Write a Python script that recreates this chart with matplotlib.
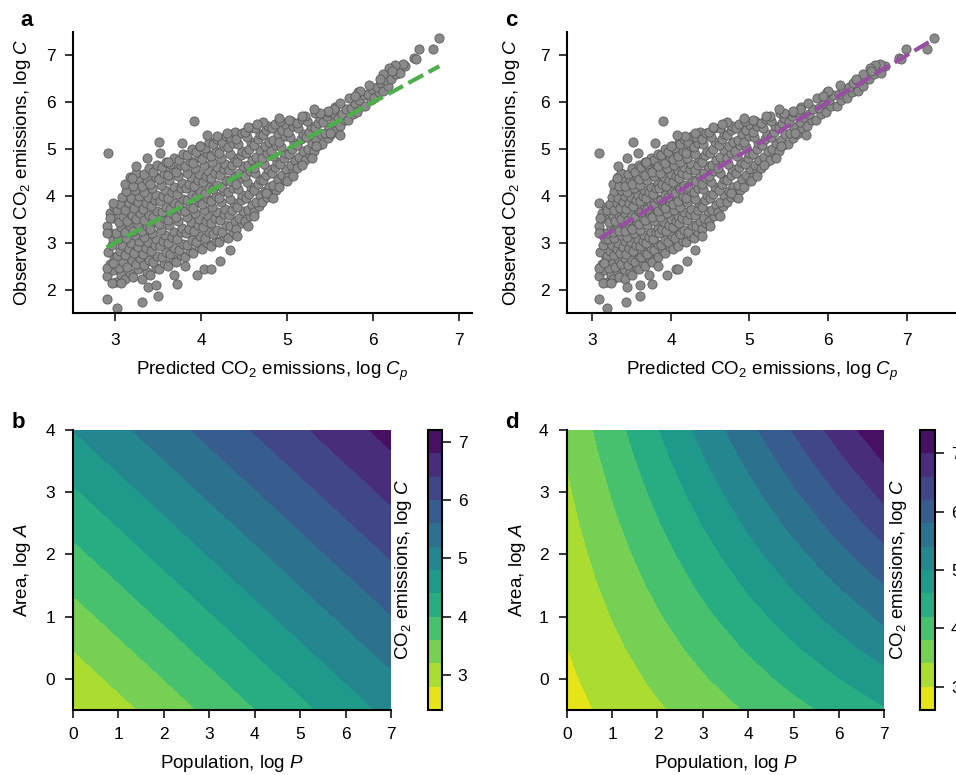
import matplotlib

matplotlib.use("Agg")
import matplotlib.pyplot as plt  # noqa: E402
import numpy as np  # noqa: E402

plt.rcParams["font.family"] = ["Liberation Sans", "DejaVu Sans"]
plt.rcParams["mathtext.fontset"] = "custom"
plt.rcParams["mathtext.rm"] = "Liberation Sans"
plt.rcParams["mathtext.it"] = "Liberation Sans:italic"
plt.rcParams["font.size"] = 12.5

# observed log C per city, with predicted log Cp from the two models (a: linear, c: with cross term)
obs = [
    2.28, 2.42, 2.55, 2.70, 2.81, 2.96, 3.08, 3.24, 3.36, 3.52, 3.63, 3.77,
    2.16, 2.31, 2.47, 2.58, 2.71, 2.83, 2.95, 3.09, 3.20, 3.33, 3.44, 3.58, 3.70, 3.83, 3.97,
    2.22, 2.36, 2.49, 2.63, 2.73, 2.87, 2.99, 3.11, 3.24, 3.35, 3.47, 3.60, 3.71, 3.84, 3.96, 4.11, 4.26, 4.41,
    2.26, 2.43, 2.55, 2.68, 2.78, 2.92, 3.03, 3.16, 3.26, 3.40, 3.50, 3.64, 3.74, 3.88, 3.99, 4.12, 4.22, 4.37, 4.50,
    2.22, 2.38, 2.53, 2.64, 2.77, 2.88, 3.01, 3.12, 3.25, 3.36, 3.49, 3.60, 3.73, 3.84, 3.97, 4.08, 4.21, 4.33, 4.47, 4.60,
    2.31, 2.47, 2.58, 2.72, 2.82, 2.96, 3.07, 3.20, 3.30, 3.44, 3.55, 3.68, 3.78, 3.92, 4.03, 4.16, 4.26, 4.40, 4.51, 4.66,
    2.43, 2.57, 2.69, 2.80, 2.93, 3.04, 3.17, 3.28, 3.41, 3.52, 3.65, 3.76, 3.89, 4.00, 4.13, 4.24, 4.37, 4.48, 4.61, 4.72,
    2.51, 2.65, 2.76, 2.89, 3.00, 3.13, 3.24, 3.37, 3.48, 3.61, 3.72, 3.85, 3.96, 4.09, 4.20, 4.33, 4.44, 4.57, 4.68, 4.80,
    2.60, 2.74, 2.84, 2.98, 3.08, 3.22, 3.32, 3.46, 3.56, 3.70, 3.80, 3.94, 4.04, 4.18, 4.28, 4.42, 4.52, 4.66, 4.76, 4.90,
    2.70, 2.82, 2.96, 3.06, 3.20, 3.30, 3.44, 3.54, 3.68, 3.78, 3.92, 4.02, 4.16, 4.26, 4.40, 4.50, 4.64, 4.74, 4.88, 5.00,
    2.78, 2.91, 3.02, 3.15, 3.26, 3.39, 3.50, 3.63, 3.74, 3.87, 3.98, 4.11, 4.22, 4.35, 4.46, 4.59, 4.70, 4.83, 4.94, 5.07,
    2.86, 2.99, 3.10, 3.23, 3.34, 3.47, 3.58, 3.71, 3.82, 3.95, 4.06, 4.19, 4.30, 4.43, 4.54, 4.67, 4.78, 4.91, 5.02, 5.15,
    2.93, 3.04, 3.18, 3.28, 3.42, 3.52, 3.66, 3.76, 3.90, 4.00, 4.14, 4.24, 4.38, 4.48, 4.62, 4.72, 4.86, 4.96, 5.10, 5.21,
    3.01, 3.14, 3.24, 3.38, 3.48, 3.62, 3.72, 3.86, 3.96, 4.10, 4.20, 4.34, 4.44, 4.58, 4.68, 4.82, 4.92, 5.06, 5.16, 5.29,
    3.11, 3.22, 3.36, 3.46, 3.60, 3.70, 3.84, 3.94, 4.08, 4.18, 4.32, 4.42, 4.56, 4.66, 4.80, 4.90, 5.04, 5.14, 5.26, 5.36,
    3.30, 3.43, 3.53, 3.67, 3.77, 3.91, 4.01, 4.15, 4.25, 4.39, 4.49, 4.63, 4.73, 4.87, 4.97, 5.11, 5.21, 5.34,
    3.46, 3.57, 3.71, 3.81, 3.95, 4.05, 4.19, 4.29, 4.43, 4.53, 4.67, 4.77, 4.91, 5.01, 5.15, 5.25, 5.37, 5.46,
    3.65, 3.78, 3.88, 4.02, 4.12, 4.26, 4.36, 4.50, 4.60, 4.74, 4.84, 4.98, 5.08, 5.22, 5.33, 5.45,
    3.86, 3.97, 4.10, 4.20, 4.34, 4.44, 4.58, 4.68, 4.82, 4.92, 5.06, 5.16, 5.30, 5.40, 5.50,
    4.01, 4.13, 4.24, 4.37, 4.48, 4.61, 4.72, 4.85, 4.96, 5.09, 5.20, 5.33, 5.44, 5.54,
    4.20, 4.33, 4.44, 4.57, 4.68, 4.81, 4.92, 5.05, 5.16, 5.29, 5.40, 5.52, 5.61,
    4.41, 4.53, 4.65, 4.77, 4.89, 5.01, 5.13, 5.25, 5.37, 5.49, 5.60,
    4.60, 4.73, 4.84, 4.97, 5.08, 5.21, 5.32, 5.45, 5.56, 5.65,
    4.76, 4.88, 5.01, 5.12, 5.25, 5.36, 5.49, 5.60, 5.70,
    4.96, 5.08, 5.20, 5.32, 5.44, 5.56, 5.67, 5.78,
    5.11, 5.23, 5.35, 5.47, 5.58, 5.70, 5.80,
    5.33, 5.45, 5.57, 5.68, 5.80, 5.90,
    5.50, 5.62, 5.74, 5.86, 5.98,
    5.63, 5.75, 5.87, 5.98, 6.10,
    5.80, 5.92, 6.04, 6.15, 6.22,
    5.93, 6.05, 6.17, 6.28,
    6.10, 6.22, 6.33, 6.42,
    6.24, 6.35, 6.47,
    6.50, 6.61, 6.72,
    6.63, 6.78,
    # scattered cities
    1.80, 1.61, 1.73, 1.87, 2.06, 2.09, 2.11, 2.14, 2.14, 4.91,
    5.15, 5.60, 5.12, 4.81, 4.63, 4.39, 3.84, 3.53, 3.21, 2.46,
    2.57, 2.32, 2.44, 2.43, 2.61, 2.85, 3.15, 2.32, 2.50, 4.81,
    5.31, 7.38, 7.14, 7.13, 6.95, 6.92, 6.81, 6.79, 6.74, 6.67,
    6.60, 6.49, 6.36, 6.24, 6.13, 5.63, 5.67, 5.58, 5.48, 5.53,
    5.35, 5.28, 5.31, 5.06, 4.72, 4.92, 3.96, 4.07, 4.31, 4.67,
    4.42, 5.06, 5.35, 5.85, 5.81, 5.78, 5.85, 5.70, 3.57, 3.35,
]

pred_a = [
    2.91, 2.97, 2.94, 2.99, 2.92, 2.96, 2.98, 2.93, 2.91, 2.97, 2.94, 2.99,
    3.01, 3.07, 3.04, 3.09, 3.02, 3.06, 3.08, 3.03, 3.01, 3.07, 3.04, 3.09, 3.02, 3.06, 3.08,
    3.11, 3.17, 3.14, 3.19, 3.12, 3.16, 3.18, 3.13, 3.11, 3.17, 3.14, 3.19, 3.12, 3.16, 3.18, 3.13, 3.11, 3.17,
    3.21, 3.27, 3.24, 3.29, 3.22, 3.26, 3.28, 3.23, 3.21, 3.27, 3.24, 3.29, 3.22, 3.26, 3.28, 3.23, 3.21, 3.27, 3.24,
    3.31, 3.37, 3.34, 3.39, 3.32, 3.36, 3.38, 3.33, 3.31, 3.37, 3.34, 3.39, 3.32, 3.36, 3.38, 3.33, 3.31, 3.37, 3.34, 3.39,
    3.41, 3.47, 3.44, 3.49, 3.42, 3.46, 3.48, 3.43, 3.41, 3.47, 3.44, 3.49, 3.42, 3.46, 3.48, 3.43, 3.41, 3.47, 3.44, 3.49,
    3.51, 3.57, 3.54, 3.59, 3.52, 3.56, 3.58, 3.53, 3.51, 3.57, 3.54, 3.59, 3.52, 3.56, 3.58, 3.53, 3.51, 3.57, 3.54, 3.59,
    3.61, 3.67, 3.64, 3.69, 3.62, 3.66, 3.68, 3.63, 3.61, 3.67, 3.64, 3.69, 3.62, 3.66, 3.68, 3.63, 3.61, 3.67, 3.64, 3.69,
    3.71, 3.77, 3.74, 3.79, 3.72, 3.76, 3.78, 3.73, 3.71, 3.77, 3.74, 3.79, 3.72, 3.76, 3.78, 3.73, 3.71, 3.77, 3.74, 3.79,
    3.81, 3.87, 3.84, 3.89, 3.82, 3.86, 3.88, 3.83, 3.81, 3.87, 3.84, 3.89, 3.82, 3.86, 3.88, 3.83, 3.81, 3.87, 3.84, 3.89,
    3.91, 3.97, 3.94, 3.99, 3.92, 3.96, 3.98, 3.93, 3.91, 3.97, 3.94, 3.99, 3.92, 3.96, 3.98, 3.93, 3.91, 3.97, 3.94, 3.99,
    4.01, 4.07, 4.04, 4.09, 4.02, 4.06, 4.08, 4.03, 4.01, 4.07, 4.04, 4.09, 4.02, 4.06, 4.08, 4.03, 4.01, 4.07, 4.04, 4.09,
    4.11, 4.17, 4.14, 4.19, 4.12, 4.16, 4.18, 4.13, 4.11, 4.17, 4.14, 4.19, 4.12, 4.16, 4.18, 4.13, 4.11, 4.17, 4.14, 4.19,
    4.21, 4.27, 4.24, 4.29, 4.22, 4.26, 4.28, 4.23, 4.21, 4.27, 4.24, 4.29, 4.22, 4.26, 4.28, 4.23, 4.21, 4.27, 4.24, 4.29,
    4.31, 4.37, 4.34, 4.39, 4.32, 4.36, 4.38, 4.33, 4.31, 4.37, 4.34, 4.39, 4.32, 4.36, 4.38, 4.33, 4.31, 4.37, 4.34, 4.39,
    4.41, 4.47, 4.44, 4.49, 4.42, 4.46, 4.48, 4.43, 4.41, 4.47, 4.44, 4.49, 4.42, 4.46, 4.48, 4.43, 4.41, 4.47,
    4.51, 4.57, 4.54, 4.59, 4.52, 4.56, 4.58, 4.53, 4.51, 4.57, 4.54, 4.59, 4.52, 4.56, 4.58, 4.53, 4.51, 4.57,
    4.61, 4.67, 4.64, 4.69, 4.62, 4.66, 4.68, 4.63, 4.61, 4.67, 4.64, 4.69, 4.62, 4.66, 4.68, 4.63,
    4.71, 4.77, 4.74, 4.79, 4.72, 4.76, 4.78, 4.73, 4.71, 4.77, 4.74, 4.79, 4.72, 4.76, 4.78,
    4.81, 4.87, 4.84, 4.89, 4.82, 4.86, 4.88, 4.83, 4.81, 4.87, 4.84, 4.89, 4.82, 4.86,
    4.91, 4.97, 4.94, 4.99, 4.92, 4.96, 4.98, 4.93, 4.91, 4.97, 4.94, 4.99, 4.92,
    5.01, 5.07, 5.04, 5.09, 5.02, 5.06, 5.08, 5.03, 5.01, 5.07, 5.04,
    5.11, 5.17, 5.14, 5.19, 5.12, 5.16, 5.18, 5.13, 5.11, 5.17,
    5.21, 5.27, 5.24, 5.29, 5.22, 5.26, 5.28, 5.23, 5.21,
    5.31, 5.37, 5.34, 5.39, 5.32, 5.36, 5.38, 5.33,
    5.41, 5.47, 5.44, 5.49, 5.42, 5.46, 5.48,
    5.51, 5.57, 5.54, 5.59, 5.52, 5.56,
    5.61, 5.67, 5.64, 5.69, 5.62,
    5.71, 5.77, 5.74, 5.79, 5.72,
    5.81, 5.87, 5.84, 5.89, 5.82,
    5.91, 5.97, 5.94, 5.99,
    6.01, 6.07, 6.04, 6.09,
    6.11, 6.17, 6.14,
    6.21, 6.27, 6.24,
    6.31, 6.37,
    # scattered cities
    2.91, 3.02, 3.31, 3.50, 3.38, 3.48, 3.72, 2.96, 3.07, 2.92,
    3.51, 3.92, 3.78, 3.37, 3.24, 3.19, 2.97, 2.94, 2.91, 2.90,
    2.98, 3.95, 4.03, 4.12, 4.22, 4.34, 4.42, 3.68, 3.81, 5.29,
    5.61, 6.77, 6.70, 6.53, 6.47, 6.50, 6.35, 6.26, 6.18, 6.22,
    6.12, 6.08, 5.95, 5.85, 5.79, 5.02, 4.90, 4.72, 4.55, 4.65,
    4.30, 4.18, 4.07, 3.99, 3.62, 3.52, 4.84, 4.76, 5.00, 5.17,
    5.07, 5.34, 5.50, 5.54, 5.48, 5.38, 5.31, 5.17, 4.61, 4.55,
]

pred_c = [
    3.09, 3.15, 3.12, 3.17, 3.10, 3.14, 3.16, 3.11, 3.09, 3.15, 3.12, 3.17,
    3.18, 3.24, 3.21, 3.26, 3.19, 3.23, 3.25, 3.20, 3.18, 3.24, 3.21, 3.26, 3.19, 3.23, 3.25,
    3.26, 3.32, 3.29, 3.34, 3.27, 3.31, 3.33, 3.28, 3.26, 3.32, 3.29, 3.34, 3.27, 3.31, 3.33, 3.28, 3.26, 3.32,
    3.34, 3.40, 3.37, 3.42, 3.35, 3.39, 3.41, 3.36, 3.34, 3.40, 3.37, 3.42, 3.35, 3.39, 3.41, 3.36, 3.34, 3.40, 3.37,
    3.42, 3.48, 3.45, 3.50, 3.43, 3.47, 3.49, 3.44, 3.42, 3.48, 3.45, 3.50, 3.43, 3.47, 3.49, 3.44, 3.42, 3.48, 3.45, 3.50,
    3.51, 3.57, 3.54, 3.59, 3.52, 3.56, 3.58, 3.53, 3.51, 3.57, 3.54, 3.59, 3.52, 3.56, 3.58, 3.53, 3.51, 3.57, 3.54, 3.59,
    3.59, 3.65, 3.62, 3.67, 3.60, 3.64, 3.66, 3.61, 3.59, 3.65, 3.62, 3.67, 3.60, 3.64, 3.66, 3.61, 3.59, 3.65, 3.62, 3.67,
    3.67, 3.73, 3.70, 3.75, 3.68, 3.72, 3.74, 3.69, 3.67, 3.73, 3.70, 3.75, 3.68, 3.72, 3.74, 3.69, 3.67, 3.73, 3.70, 3.75,
    3.76, 3.82, 3.79, 3.84, 3.77, 3.81, 3.83, 3.78, 3.76, 3.82, 3.79, 3.84, 3.77, 3.81, 3.83, 3.78, 3.76, 3.82, 3.79, 3.84,
    3.84, 3.90, 3.87, 3.92, 3.85, 3.89, 3.91, 3.86, 3.84, 3.90, 3.87, 3.92, 3.85, 3.89, 3.91, 3.86, 3.84, 3.90, 3.87, 3.92,
    3.93, 3.99, 3.96, 4.01, 3.94, 3.98, 4.00, 3.95, 3.93, 3.99, 3.96, 4.01, 3.94, 3.98, 4.00, 3.95, 3.93, 3.99, 3.96, 4.01,
    4.02, 4.08, 4.05, 4.10, 4.03, 4.07, 4.09, 4.04, 4.02, 4.08, 4.05, 4.10, 4.03, 4.07, 4.09, 4.04, 4.02, 4.08, 4.05, 4.10,
    4.09, 4.15, 4.12, 4.17, 4.10, 4.14, 4.16, 4.11, 4.09, 4.15, 4.12, 4.17, 4.10, 4.14, 4.16, 4.11, 4.09, 4.15, 4.12, 4.17,
    4.19, 4.25, 4.22, 4.27, 4.20, 4.24, 4.26, 4.21, 4.19, 4.25, 4.22, 4.27, 4.20, 4.24, 4.26, 4.21, 4.19, 4.25, 4.22, 4.27,
    4.29, 4.35, 4.32, 4.37, 4.30, 4.34, 4.36, 4.31, 4.29, 4.35, 4.32, 4.37, 4.30, 4.34, 4.36, 4.31, 4.29, 4.35, 4.32, 4.37,
    4.39, 4.45, 4.42, 4.47, 4.40, 4.44, 4.46, 4.41, 4.39, 4.45, 4.42, 4.47, 4.40, 4.44, 4.46, 4.41, 4.39, 4.45,
    4.49, 4.55, 4.52, 4.57, 4.50, 4.54, 4.56, 4.51, 4.49, 4.55, 4.52, 4.57, 4.50, 4.54, 4.56, 4.51, 4.49, 4.55,
    4.60, 4.66, 4.63, 4.68, 4.61, 4.65, 4.67, 4.62, 4.60, 4.66, 4.63, 4.68, 4.61, 4.65, 4.67, 4.62,
    4.71, 4.77, 4.74, 4.79, 4.72, 4.76, 4.78, 4.73, 4.71, 4.77, 4.74, 4.79, 4.72, 4.76, 4.78,
    4.82, 4.88, 4.85, 4.90, 4.83, 4.87, 4.89, 4.84, 4.82, 4.88, 4.85, 4.90, 4.83, 4.87,
    4.93, 4.99, 4.96, 5.01, 4.94, 4.98, 5.00, 4.95, 4.93, 4.99, 4.96, 5.01, 4.94,
    5.04, 5.10, 5.07, 5.12, 5.05, 5.09, 5.11, 5.06, 5.04, 5.10, 5.07,
    5.15, 5.21, 5.18, 5.23, 5.16, 5.20, 5.22, 5.17, 5.15, 5.21,
    5.26, 5.32, 5.29, 5.34, 5.27, 5.31, 5.33, 5.28, 5.26,
    5.37, 5.43, 5.40, 5.45, 5.38, 5.42, 5.44, 5.39,
    5.49, 5.55, 5.52, 5.57, 5.50, 5.54, 5.56,
    5.61, 5.67, 5.64, 5.69, 5.62, 5.66,
    5.73, 5.79, 5.76, 5.81, 5.74,
    5.85, 5.91, 5.88, 5.93, 5.86,
    5.98, 6.04, 6.01, 6.06, 5.99,
    6.11, 6.17, 6.14, 6.19,
    6.24, 6.30, 6.27, 6.32,
    6.38, 6.44, 6.41,
    6.52, 6.58, 6.55,
    6.67, 6.73,
    # scattered cities
    3.09, 3.19, 3.43, 3.61, 3.44, 3.60, 3.76, 3.14, 3.24, 3.09,
    3.52, 3.90, 3.80, 3.44, 3.33, 3.31, 3.09, 3.10, 3.09, 3.09,
    3.15, 3.95, 4.06, 4.09, 4.20, 4.31, 4.40, 3.72, 3.84, 5.34,
    5.72, 7.35, 7.26, 6.99, 6.90, 6.93, 6.66, 6.60, 6.53, 6.55,
    6.45, 6.36, 6.15, 6.00, 5.93, 5.05, 4.93, 4.72, 4.53, 4.65,
    4.30, 4.18, 4.08, 4.00, 3.68, 3.58, 4.85, 4.76, 5.02, 5.19,
    5.10, 5.40, 5.58, 5.64, 5.56, 5.44, 5.37, 5.21, 4.62, 4.50,
]

# model surfaces, log C read at grid nodes (rows: log A, columns: log P)
pop_grid = [0, 1, 2, 3, 4, 5, 6, 7]
area_b = [-0.5, 1.0, 2.5, 4.0]
emis_b = [
    [2.765, 3.071, 3.377, 3.683, 3.989, 4.295, 4.601, 4.907],
    [3.445, 3.751, 4.057, 4.363, 4.669, 4.975, 5.281, 5.587],
    [4.125, 4.431, 4.737, 5.043, 5.349, 5.655, 5.961, 6.267],
    [4.805, 5.111, 5.417, 5.723, 6.029, 6.335, 6.641, 6.947],
]
area_d = [-0.5, 0.0, 0.5, 1.0, 1.5, 2.0, 2.5, 3.0, 3.5, 4.0]
emis_d = [
    [2.856, 3.100, 3.344, 3.588, 3.832, 4.076, 4.320, 4.564],
    [2.925, 3.203, 3.481, 3.759, 4.037, 4.315, 4.593, 4.871],
    [2.994, 3.306, 3.618, 3.930, 4.242, 4.554, 4.866, 5.178],
    [3.063, 3.409, 3.755, 4.101, 4.447, 4.793, 5.139, 5.485],
    [3.132, 3.512, 3.892, 4.272, 4.652, 5.032, 5.412, 5.792],
    [3.201, 3.615, 4.029, 4.443, 4.857, 5.271, 5.685, 6.099],
    [3.270, 3.718, 4.166, 4.614, 5.062, 5.510, 5.958, 6.406],
    [3.339, 3.821, 4.303, 4.785, 5.267, 5.749, 6.231, 6.713],
    [3.408, 3.924, 4.440, 4.956, 5.472, 5.988, 6.504, 7.020],
    [3.477, 4.027, 4.577, 5.127, 5.677, 6.227, 6.777, 7.327],
]
levels_b = [2.4, 2.8, 3.2, 3.6, 4.0, 4.4, 4.8, 5.2, 5.6, 6.0, 6.4, 6.8, 7.2]
levels_d = [2.6, 3.0, 3.4, 3.8, 4.2, 4.6, 5.0, 5.4, 5.8, 6.2, 6.6, 7.0, 7.4]

CO2_LABEL = "CO$_2$ emissions, log $C$"
LABEL_SIZE = 13.5


def style_axes(ax, tick_len, xpad, ypad):
    for side in ("top", "right"):
        ax.spines[side].set_visible(False)
    for side in ("left", "bottom"):
        ax.spines[side].set_linewidth(1.5)
    ax.tick_params(direction="out", length=tick_len, width=1.1, labelsize=12.5)
    ax.tick_params(axis="x", pad=xpad)
    ax.tick_params(axis="y", pad=ypad)


def scatter_panel(ax, pred, color, xlim, ylab_x):
    ax.scatter(pred, obs, s=44, facecolor="#8a8a8a", edgecolor="#555555", linewidth=0.55, zorder=2)
    lo, hi = min(pred), max(pred)
    ax.plot([lo, hi], [lo, hi], ls=(0, (4, 1.5)), color=color, lw=3.0, zorder=3)
    ax.set_xlim(*xlim)
    ax.set_ylim(1.5, 7.5)
    ax.set_xticks([3, 4, 5, 6, 7])
    ax.set_yticks([2, 3, 4, 5, 6, 7])
    style_axes(ax, 5.5, 9, 7)
    ax.set_xlabel("Predicted CO$_2$ emissions, log $C_p$", fontsize=LABEL_SIZE)
    ax.set_ylabel("Observed CO$_2$ emissions, log $C$", fontsize=LABEL_SIZE)
    ax.xaxis.set_label_coords(0.5, -0.167)
    ax.yaxis.set_label_coords(ylab_x, 0.5)


def contour_panel(ax, cax, area, emis, levels, ylab_x, cblab_x):
    cs = ax.contourf(pop_grid, area, np.array(emis), levels=levels, cmap="viridis_r")
    ax.set_xlim(0, 7)
    ax.set_ylim(-0.5, 4)
    ax.set_xticks(range(8))
    ax.set_yticks(range(5))
    style_axes(ax, 6, 6, 7)
    ax.set_xlabel("Population, log $P$", fontsize=LABEL_SIZE)
    ax.set_ylabel("Area, log $A$", fontsize=LABEL_SIZE)
    ax.xaxis.set_label_coords(0.5, -0.155)
    ax.yaxis.set_label_coords(ylab_x, 0.5)
    cb = plt.colorbar(cs, cax=cax, ticks=[3, 4, 5, 6, 7])
    cb.outline.set_linewidth(1.5)
    cax.tick_params(direction="out", length=6.5, width=1.1, labelsize=12.5, pad=5)
    cb.set_label(CO2_LABEL, fontsize=LABEL_SIZE)
    cax.yaxis.set_label_position("left")
    cax.yaxis.set_label_coords(cblab_x, 0.5)


fig = plt.figure(figsize=(9.56, 7.75), dpi=100)
ax_a = fig.add_axes([0.0764, 0.5961, 0.4173, 0.3626])
ax_c = fig.add_axes([0.5934, 0.5961, 0.4066, 0.3626])
ax_b = fig.add_axes([0.0764, 0.0839, 0.3326, 0.3613])
cax_b = fig.add_axes([0.4472, 0.0839, 0.0149, 0.3613])
ax_d = fig.add_axes([0.5928, 0.0839, 0.3322, 0.3613])
cax_d = fig.add_axes([0.9623, 0.0839, 0.0157, 0.3613])

scatter_panel(ax_a, pred_a, "#4daf4a", (2.51, 7.15), -0.10)
scatter_panel(ax_c, pred_c, "#984ea3", (2.68, 7.63), -0.117)
contour_panel(ax_b, cax_b, area_b, emis_b, levels_b, -0.126, -0.95)
contour_panel(ax_d, cax_d, area_d, emis_d, levels_d, -0.122, -0.7)

for label, x, y in [("a", 0.021, 0.9665), ("c", 0.528, 0.9665), ("b", 0.0126, 0.4477), ("d", 0.528, 0.4477)]:
    fig.text(x, y, label, fontsize=16, fontweight="bold")

fig.savefig("out.png", dpi=100)
